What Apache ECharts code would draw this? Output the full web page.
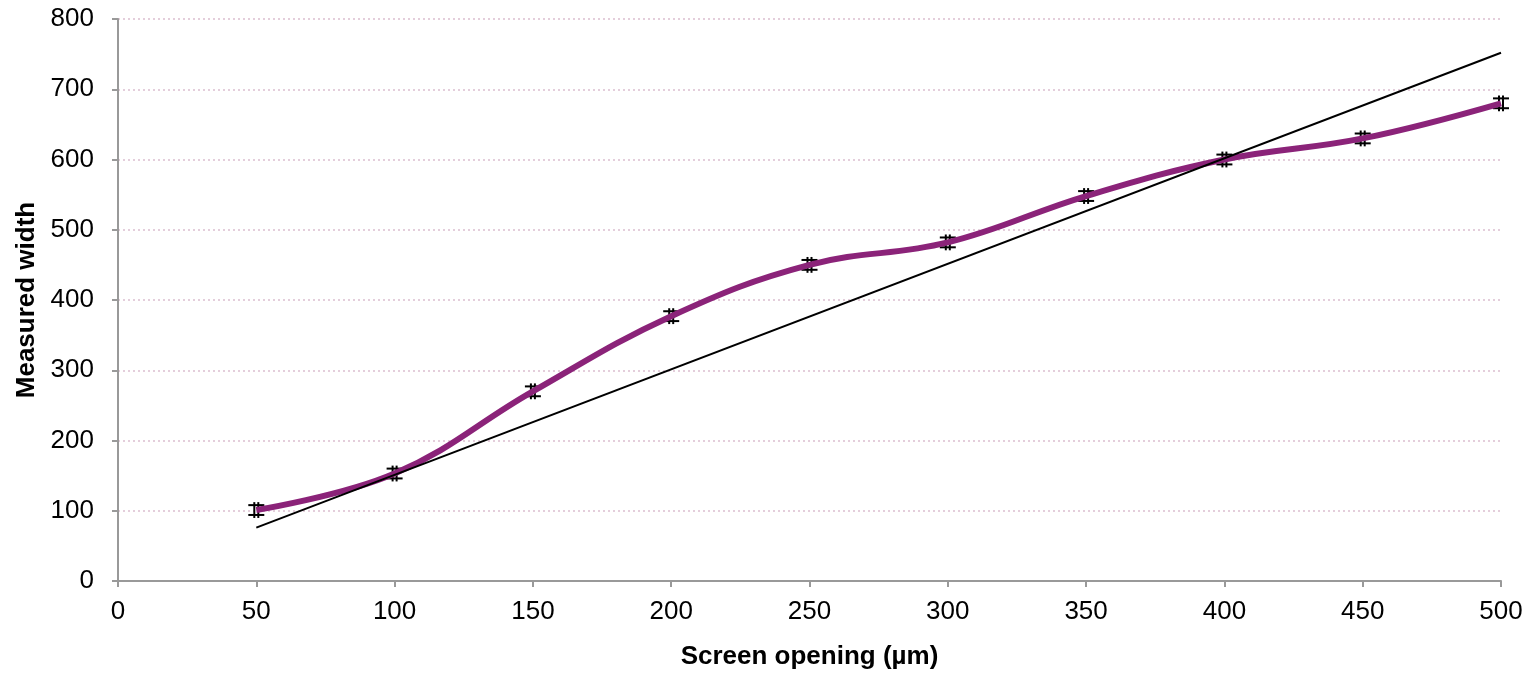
<!DOCTYPE html>
<html>
<head>
<meta charset="utf-8">
<script src="https://cdn.jsdelivr.net/npm/echarts@6/dist/echarts.min.js"></script>
<style>html,body{margin:0;padding:0;background:#fff}#c{width:1534px;height:673px}</style>
</head>
<body>
<div id="c"></div>
<script>
var openings = [50, 100, 150, 200, 250, 300, 350, 400, 450, 500];
var measured = [101, 153, 270, 377, 450, 482, 548, 600, 630, 680];
var errors = [7, 7, 7, 7, 7, 7, 7, 7, 7, 7];
var refLine = [[50, 76], [500, 752]];

var measuredData = openings.map(function (x, i) { return [x, measured[i]]; });
var errData = openings.map(function (x, i) { return [x, measured[i] - errors[i], measured[i] + errors[i]]; });

var chart = echarts.init(document.getElementById('c'));
var font = 'Liberation Sans, Arial, sans-serif';
chart.setOption({
  animation: false,
  grid: { left: 118, right: 33, top: 19, bottom: 92, containLabel: false, outerBoundsMode: 'none' },
  xAxis: {
    type: 'value', min: 0, max: 500, interval: 50,
    name: 'Screen opening (µm)', nameLocation: 'middle', nameGap: 63,
    nameTextStyle: { fontFamily: font, fontSize: 26, fontWeight: 'bold', color: '#000' },
    axisLine: { lineStyle: { color: '#999', width: 2 } },
    axisTick: { show: true, length: 6, lineStyle: { color: '#999', width: 2 } },
    axisLabel: { fontFamily: font, fontSize: 26, color: '#000', margin: 18 },
    splitLine: { show: false }
  },
  yAxis: {
    type: 'value', min: 0, max: 800, interval: 100,
    name: 'Measured width', nameLocation: 'middle', nameGap: 77,
    nameTextStyle: { fontFamily: font, fontSize: 26, fontWeight: 'bold', color: '#000' },
    axisLine: { show: true, lineStyle: { color: '#999', width: 2 } },
    axisTick: { show: true, length: 6, lineStyle: { color: '#999', width: 2 } },
    axisLabel: { fontFamily: font, fontSize: 26, color: '#000', margin: 24 },
    splitLine: { show: true, lineStyle: { color: '#dcbfd0', type: [2, 3], width: 1.5 } }
  },
  series: [
    {
      type: 'custom', data: errData, z: 2,
      renderItem: function (params, api) {
        var x = api.value(0);
        var lo = api.coord([x, api.value(1)]);
        var hi = api.coord([x, api.value(2)]);
        var cx = lo[0];
        var st = { stroke: '#000', lineWidth: 2 };
        return {
          type: 'group',
          children: [
            { type: 'line', shape: { x1: cx - 2, y1: lo[1] + 3, x2: cx - 2, y2: hi[1] - 3 }, style: st },
            { type: 'line', shape: { x1: cx + 2, y1: lo[1] + 3, x2: cx + 2, y2: hi[1] - 3 }, style: st },
            { type: 'line', shape: { x1: cx - 8, y1: lo[1], x2: cx + 8, y2: lo[1] }, style: st },
            { type: 'line', shape: { x1: cx - 8, y1: hi[1], x2: cx + 8, y2: hi[1] }, style: st }
          ]
        };
      }
    },
    {
      type: 'line', data: measuredData, smooth: 0.4, symbol: 'none',
      lineStyle: { color: '#8b2379', width: 6 }, z: 3
    },
    {
      type: 'line', data: refLine, symbol: 'none', silent: true,
      lineStyle: { color: '#000', width: 2 }, z: 4
    }
  ]
});
</script>
</body>
</html>
